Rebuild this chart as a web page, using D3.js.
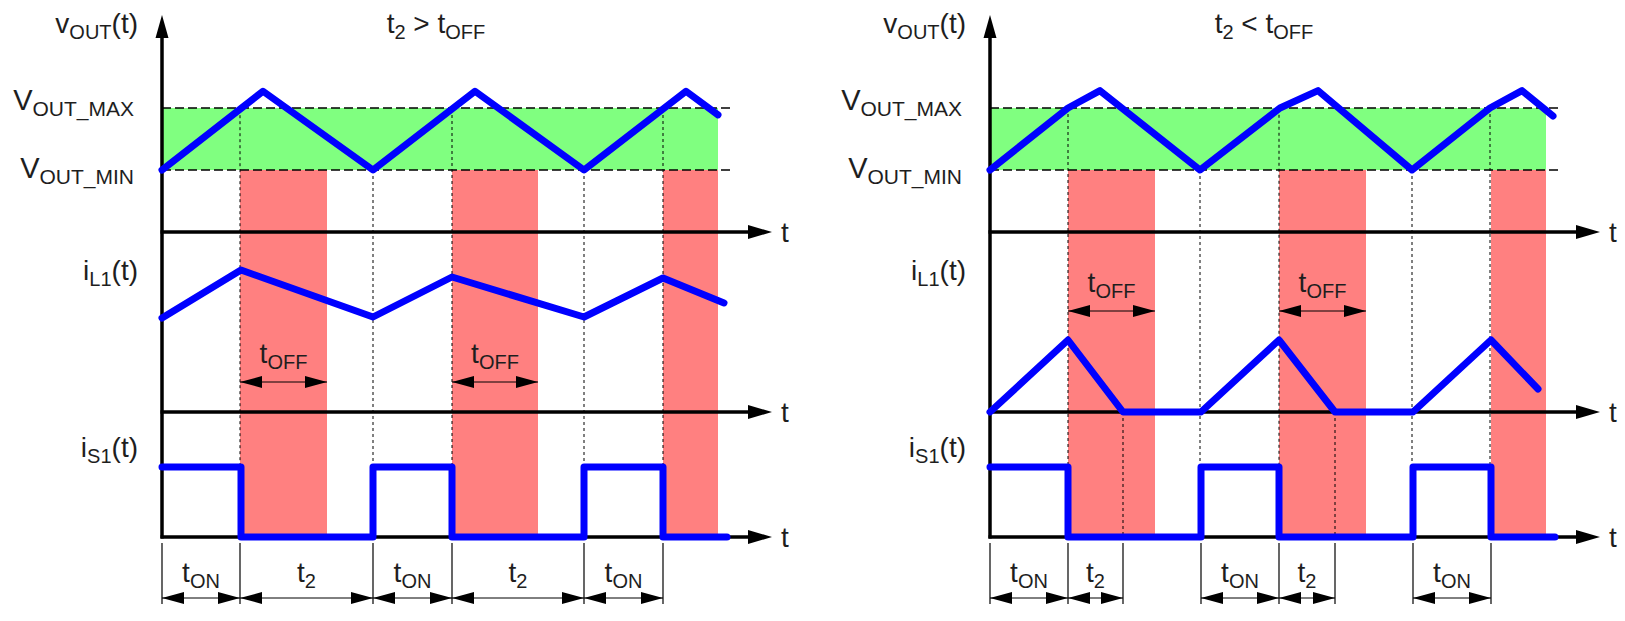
<!DOCTYPE html>
<meta charset="utf-8">
<style>

body {
  margin: 0;
  background: #fff;
}

text {
  font-family: "Liberation Sans", Arial, sans-serif;
  fill: #1e1e1e;
}

</style>
<body>
<script src="https://d3js.org/d3.v7.min.js"></script>
<script>

// time in arbitrary units, 0 = start of the first on-interval
// vOUT is given relative to the band: 0 = VOUT_MIN, 1 = VOUT_MAX
var voutLeftT  = [0, 1.01, 2.11, 3.13, 4.22, 5.24, 5.56];
var voutLeftV  = [0, 1.27, 0, 1.27, 0, 1.27, 0.89];
var voutRightT = [0, 0.78, 1.10, 2.10, 2.90, 3.28, 4.22, 5.00, 5.32, 5.63];
var voutRightV = [0, 1, 1.28, 0, 1, 1.28, 0, 1, 1.28, 0.87];

// inductor current
var ilLeftT  = [0, 0.79, 2.11, 2.90, 4.22, 5.01, 5.62];
var ilLeftV  = [0.94, 1.42, 0.95, 1.35, 0.95, 1.34, 1.09];
var ilRightT = [0, 0.78, 1.33, 2.11, 2.89, 3.45, 4.23, 5.01, 5.48];
var ilRightV = [0, 0.72, 0, 0, 0.72, 0, 0, 0.72, 0.23];

// switch current (on = 1, off = 0)
var isLeftT  = [0, 0.79, 2.11, 2.90, 4.22, 5.01, 5.65];
var isLeftS  = [1, 0, 1, 0, 1, 0, 0];
var isRightT = [0, 0.78, 2.11, 2.89, 4.23, 5.01, 5.65];
var isRightS = [1, 0, 1, 0, 1, 0, 0];

// tOFF intervals (red) and the VOUT band end
var offLeft  = [[0.78, 1.65], [2.90, 3.76], [5.01, 5.56]];
var offRight = [[0.78, 1.65], [2.89, 3.76], [5.01, 5.56]];
var bandEnd = 5.56;

// switching edges marked by dotted lines
var edgesLeft  = [0.78, 2.11, 2.90, 4.22, 5.01];
var edgesRight = [0.78, 2.10, 2.89, 4.22, 5.00];
var t2EndRight = [1.33, 3.45];

// interval labels under the plots
var dimLeft  = [[0, 0.78, "ON"], [0.78, 2.11, "2"], [2.11, 2.90, "ON"], [2.90, 4.22, "2"], [4.22, 5.01, "ON"]];
var dimRight = [[0, 0.78, "ON"], [0.78, 1.33, "2"], [2.11, 2.89, "ON"], [2.89, 3.45, "2"], [4.23, 5.01, "ON"]];

var width = 1625,
    height = 621;

var x = d3.scaleLinear().domain([0, 6.1]).range([162, 772]);
var yV = d3.scaleLinear().domain([0, 1]).range([170, 108]);
var yIL = d3.scaleLinear().domain([0, 1]).range([412, 312]);
var yIS = d3.scaleLinear().domain([0, 1]).range([537, 467]);

var blue = "#0000ff",
    green = "#80ff80",
    red = "#ff8080";

var svg = d3.select("body").append("svg")
    .attr("width", width)
    .attr("height", height);

function tri(g, tipX, tipY, dx, dy, len, half) {
  // dx,dy = unit direction the tip points to
  var bx = tipX - dx * len, by = tipY - dy * len;
  var px = -dy * half, py = dx * half;
  g.append("path")
      .attr("d", "M" + tipX + "," + tipY + "L" + (bx + px) + "," + (by + py) + "L" + (bx - px) + "," + (by - py) + "Z")
      .attr("fill", "#000");
}

function label(g, px, py, anchor, parts, big, small) {
  big = big || 28; small = small || 20;
  var t = g.append("text")
      .attr("x", px)
      .attr("y", py)
      .attr("text-anchor", anchor)
      .style("font-size", big + "px");
  var down = false;
  parts.forEach(function(p) {
    var s = t.append("tspan").text(p[0]);
    if (p[1] && !down) { s.attr("dy", 6).style("font-size", small + "px"); down = true; }
    else if (p[1]) { s.style("font-size", small + "px"); }
    else if (down) { s.attr("dy", -6); down = false; }
  });
}

function panel(dx, cfg) {
  var g = svg.append("g").attr("transform", "translate(" + dx + ",0)");
  var voutAt = d3.scaleLinear().domain(cfg.voutT).range(cfg.voutV);

  // VOUT band
  g.append("rect")
      .attr("x", x(0)).attr("y", yV(1))
      .attr("width", x(bandEnd) - x(0))
      .attr("height", yV(0) - yV(1))
      .attr("fill", green);

  // off-time bands
  g.selectAll(".off").data(cfg.off).enter().append("rect")
      .attr("x", function(d) { return x(d[0]); })
      .attr("y", yV(0))
      .attr("width", function(d) { return x(d[1]) - x(d[0]); })
      .attr("height", yIS(0) - yV(0))
      .attr("fill", red);

  // VOUT_MAX / VOUT_MIN dashed levels
  g.selectAll(".lvl").data([0, 1]).enter().append("line")
      .attr("x1", x(0)).attr("x2", x(5.71))
      .attr("y1", yV).attr("y2", yV)
      .attr("stroke", "#000")
      .attr("stroke-width", 1.4)
      .attr("stroke-dasharray", "9,4");

  // dotted switching edges
  g.selectAll(".edge").data(cfg.edges).enter().append("line")
      .attr("x1", x).attr("x2", x)
      .attr("y1", function(d) { return yV(Math.min(1, Math.max(0, voutAt(d)))); })
      .attr("y2", yIS(1))
      .attr("stroke", "#000")
      .attr("stroke-width", 1)
      .attr("stroke-dasharray", "3,3");
  g.selectAll(".edge2").data(cfg.t2End).enter().append("line")
      .attr("x1", x).attr("x2", x)
      .attr("y1", yIL(0)).attr("y2", yIS(0))
      .attr("stroke", "#000")
      .attr("stroke-width", 1)
      .attr("stroke-dasharray", "3,3");

  // axes
  var ax = g.append("g");
  ax.append("line")
      .attr("x1", x(0)).attr("x2", x(0))
      .attr("y1", yIS(0) + 1.5).attr("y2", 36)
      .attr("stroke", "#000").attr("stroke-width", 3.5);
  tri(ax, x(0), 15, 0, -1, 23, 6.5);
  [232, yIL(0), yIS(0)].forEach(function(yy) {
    ax.append("line")
        .attr("x1", x(0) - 1.5).attr("x2", x(5.88))
        .attr("y1", yy).attr("y2", yy)
        .attr("stroke", "#000").attr("stroke-width", 3.5);
    tri(ax, x(6.1), yy, 1, 0, 24, 7);
    label(ax, x(6.1) + 9, yy + 10, "start", [["t"]]);
  });

  // waveforms
  var lineV = d3.line().x(function(d) { return x(d[0]); }).y(function(d) { return yV(d[1]); });
  var lineIL = d3.line().x(function(d) { return x(d[0]); }).y(function(d) { return yIL(d[1]); });
  var lineIS = d3.line().curve(d3.curveStepAfter)
      .x(function(d) { return x(d[0]); }).y(function(d) { return yIS(d[1]); });

  var waves = [
    [lineV, d3.zip(cfg.voutT, cfg.voutV)],
    [lineIL, d3.zip(cfg.ilT, cfg.ilV)],
    [lineIS, d3.zip(cfg.isT, cfg.isS)]
  ];
  waves.forEach(function(w) {
    g.append("path")
        .attr("d", w[0](w[1]))
        .attr("fill", "none")
        .attr("stroke", blue)
        .attr("stroke-width", 7)
        .attr("stroke-linejoin", "round")
        .attr("stroke-linecap", "round");
  });

  // tOFF dimension arrows
  cfg.off.slice(0, 2).forEach(function(d) {
    var yy = cfg.offArrowY;
    g.append("line")
        .attr("x1", x(d[0])).attr("x2", x(d[1]))
        .attr("y1", yy).attr("y2", yy)
        .attr("stroke", "#000").attr("stroke-width", 1);
    tri(g, x(d[0]), yy, -1, 0, 22, 6);
    tri(g, x(d[1]), yy, 1, 0, 22, 6);
    label(g, (x(d[0]) + x(d[1])) / 2, yy - 19, "middle", [["t"], ["OFF", 1]]);
  });

  // bottom interval dimensions
  var bounds = [];
  cfg.dims.forEach(function(d) { bounds.push(d[0], d[1]); });
  g.selectAll(".ext").data(Array.from(new Set(bounds))).enter().append("line")
      .attr("x1", x).attr("x2", x)
      .attr("y1", 543).attr("y2", 604)
      .attr("stroke", "#000").attr("stroke-width", 1.2);
  cfg.dims.forEach(function(d) {
    g.append("line")
        .attr("x1", x(d[0])).attr("x2", x(d[1]))
        .attr("y1", 598).attr("y2", 598)
        .attr("stroke", "#000").attr("stroke-width", 1);
    tri(g, x(d[0]), 598, -1, 0, 22, 6);
    tri(g, x(d[1]), 598, 1, 0, 22, 6);
    label(g, (x(d[0]) + x(d[1])) / 2, 582, "middle", [["t"], [d[2], 1]]);
  });

  // signal labels
  label(g, 138, 33, "end", [["v"], ["OUT", 1], ["(t)"]]);
  label(g, 134, 110, "end", [["V"], ["OUT_MAX", 1]], 29, 21);
  label(g, 134, 178, "end", [["V"], ["OUT_MIN", 1]], 29, 21);
  label(g, 138, 280, "end", [["i"], ["L1", 1], ["(t)"]]);
  label(g, 138, 457, "end", [["i"], ["S1", 1], ["(t)"]]);

  // title
  label(g, 436, 33, "middle", [["t"], ["2", 1], [" " + cfg.rel + " t"], ["OFF", 1]]);
}

panel(0, {
  voutT: voutLeftT, voutV: voutLeftV,
  ilT: ilLeftT, ilV: ilLeftV,
  isT: isLeftT, isS: isLeftS,
  off: offLeft, edges: edgesLeft, t2End: [],
  dims: dimLeft, offArrowY: 382, rel: ">"
});

panel(828, {
  voutT: voutRightT, voutV: voutRightV,
  ilT: ilRightT, ilV: ilRightV,
  isT: isRightT, isS: isRightS,
  off: offRight, edges: edgesRight, t2End: t2EndRight,
  dims: dimRight, offArrowY: 311, rel: "<"
});

</script>
</body>
